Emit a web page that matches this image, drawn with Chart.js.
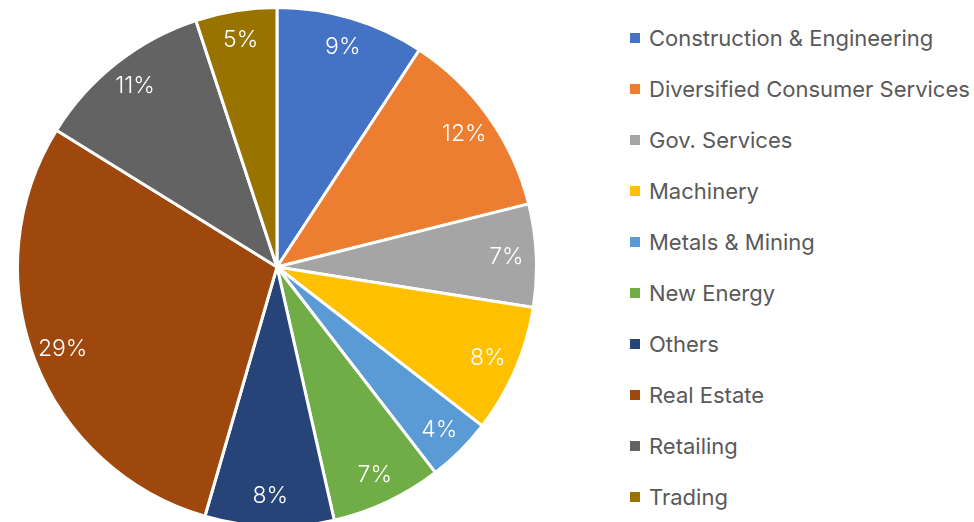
<!DOCTYPE html>
<html>
<head>
<meta charset="utf-8">
<script src="https://cdn.jsdelivr.net/npm/chart.js@4/dist/chart.umd.min.js"></script>
<style>
  html, body { margin: 0; padding: 0; background: #fff; overflow: hidden; }
  body { width: 974px; height: 522px; position: relative; font-family: Inter, sans-serif; }
  #pieWrap { position: absolute; left: 16px; top: 6px; width: 522px; height: 522px; }
  #legend { position: absolute; left: 630px; top: 0; margin: 0; padding: 0; list-style: none; }
  #legend li { position: absolute; left: 0; height: 26px; white-space: nowrap; display: flex; align-items: center; font-size: 22px; color: #595959; }
  #legend span.box { width: 10px; height: 10px; margin-right: 9px; display: inline-block; }
</style>
</head>
<body>
<div id="pieWrap"><canvas id="sectorPie"></canvas></div>
<ul id="legend"></ul>
<script>
// --- DATA ---
const sectors = ['Construction & Engineering', 'Diversified Consumer Services', 'Gov. Services', 'Machinery', 'Metals & Mining', 'New Energy', 'Others', 'Real Estate', 'Retailing', 'Trading'];
// slice shares (the printed labels are rounded)
const shares = [9.24, 11.85, 6.4, 8.0, 4.06, 6.91, 8.02, 29.36, 11.1, 5.06];
const shareLabels = ['9%', '12%', '7%', '8%', '4%', '7%', '8%', '29%', '11%', '5%'];
const sliceColors = ['#4472C4', '#ED7D31', '#A5A5A5', '#FFC000', '#5B9BD5', '#70AD47', '#264478', '#9E480E', '#636363', '#997300'];

// percent labels drawn inside each slice
const sliceLabels = {
    id: 'sliceLabels',
    afterDatasetsDraw(chart) {
        const ctx = chart.ctx;
        const meta = chart.getDatasetMeta(0);
        ctx.save();
        ctx.fillStyle = '#ffffff';
        ctx.font = '300 23px Inter, sans-serif';
        ctx.textAlign = 'center';
        ctx.textBaseline = 'middle';
        meta.data.forEach((arc, i) => {
            const p = arc.getProps(['x', 'y', 'startAngle', 'endAngle', 'outerRadius']);
            const mid = (p.startAngle + p.endAngle) / 2;
            const r = p.outerRadius * 0.885;
            ctx.fillText(shareLabels[i], p.x + Math.cos(mid) * r, p.y + Math.sin(mid) * r);
        });
        ctx.restore();
    }
};

new Chart(document.getElementById('sectorPie'), {
    type: 'pie',
    data: {
        labels: sectors,
        datasets: [{ data: shares, backgroundColor: sliceColors, borderColor: '#ffffff', borderWidth: 3 }]
    },
    options: {
        responsive: true, maintainAspectRatio: false, animation: false,
        layout: { padding: 0 },
        plugins: { legend: { display: false }, tooltip: { enabled: false } }
    },
    plugins: [sliceLabels]
});

// legend on the right
const legend = document.getElementById('legend');
sectors.forEach((name, i) => {
    const li = document.createElement('li');
    li.style.top = (25 + i * 51) + 'px';
    li.innerHTML = '<span class="box" style="background:' + sliceColors[i] + '"></span>' + name;
    legend.appendChild(li);
});
</script>
</body>
</html>
